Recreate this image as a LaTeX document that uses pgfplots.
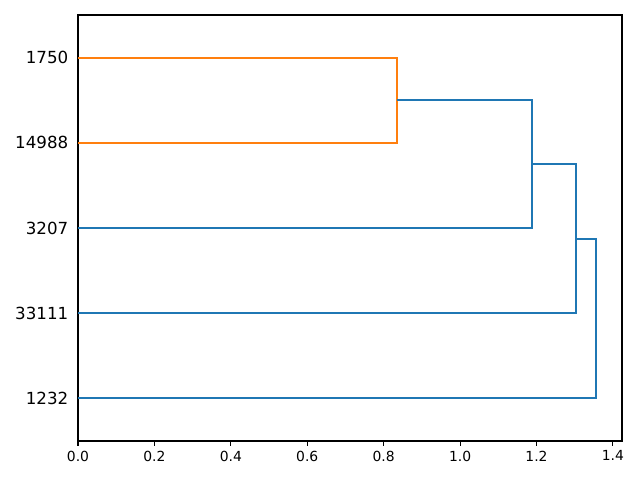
\documentclass[border=0pt]{standalone}
\usepackage{pgfplots}
\pgfplotsset{compat=1.18}
\usepackage{fontspec}
\setmainfont{DejaVu Sans}
\definecolor{cblue}{HTML}{1F77B4}
\definecolor{corange}{HTML}{FF7F0E}
\begin{document}
\begin{tikzpicture}
\path (-56.16pt,-28.08pt) rectangle (404.64pt,317.52pt);
\begin{axis}[
  at={(0,0)}, anchor=south west,
  scale only axis, width=391.68pt, height=306.72pt,
  xmin=0, xmax=1.4238, ymin=0, ymax=50,
  axis line style={line width=0.8pt},
  xtick={0,0.2,0.4,0.6,0.8,1.0,1.2,1.4},
  xticklabel style={font=\fontsize{10}{12}\selectfont, /pgf/number format/fixed, /pgf/number format/fixed zerofill, /pgf/number format/precision=1},
  /pgf/number format/assume math mode=true,
  tick style={line width=0.8pt, black},
  major tick length=3.5pt,
  tick align=outside,
  xtick pos=bottom,
  ytick={5,15,25,35,45},
  yticklabels={1232,33111,3207,14988,1750},
  yticklabel style={font=\fontsize{12}{14}\selectfont},
  ytick style={draw=none},
  ytick pos=left,
]
\addplot[corange, line width=1.5pt] coordinates {(0,45) (0.836,45) (0.836,35) (0,35)};
\addplot[cblue, line width=1.5pt] coordinates {(0.836,40) (1.188,40) (1.188,25) (0,25)};
\addplot[cblue, line width=1.5pt] coordinates {(1.188,32.5) (1.304,32.5) (1.304,15) (0,15)};
\addplot[cblue, line width=1.5pt] coordinates {(1.304,23.75) (1.356,23.75) (1.356,5) (0,5)};
\end{axis}
\end{tikzpicture}
\end{document}
